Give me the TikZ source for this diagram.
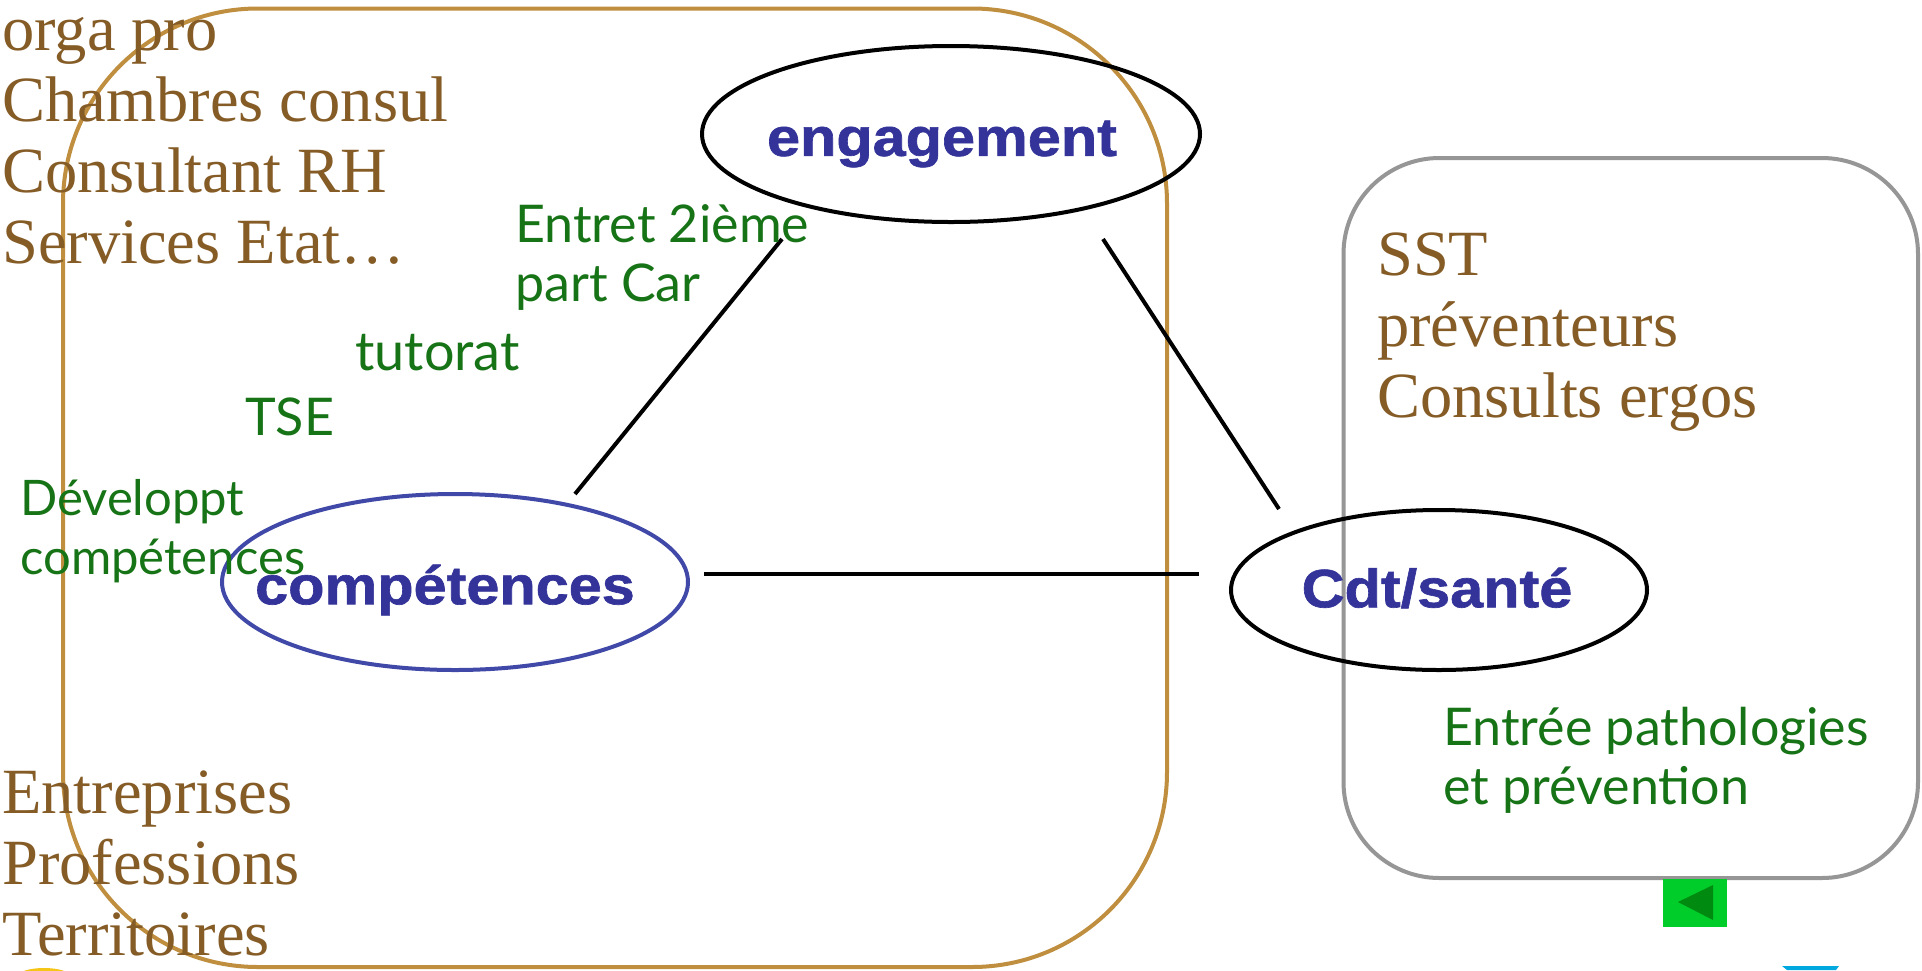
\documentclass[tikz,border=0pt]{standalone}
\usepackage{fontspec}
\setmainfont{Liberation Serif}
\newfontfamily\headfont[FakeStretch=1.1,BoldFeatures={FakeBold=1.2}]{Liberation Sans}
\newfontfamily\handfont{Lato}
\definecolor{brownText}{HTML}{855C26}
\definecolor{tanBox}{HTML}{BF8F3F}
\definecolor{greyBox}{HTML}{969696}
\definecolor{greenText}{HTML}{167316}
\definecolor{navyText}{HTML}{333399}
\definecolor{blueEll}{HTML}{4048A8}
\definecolor{btnGreen}{HTML}{00CC2A}
\definecolor{btnDark}{HTML}{008A10}
\definecolor{skyBit}{HTML}{00A8E0}
\definecolor{yellowBit}{HTML}{F5C518}
\tikzset{
 x=1pt,y=-1pt,
 brownlist/.style={anchor=base west,inner sep=0pt,text=brownText,align=left,font=\fontsize{64.5}{71}\selectfont},
 handnote/.style={anchor=base west,inner sep=0pt,text=greenText,align=left,font=\handfont\fontsize{52}{59}\selectfont},
 headlabel/.style={inner sep=0pt,text=navyText,font=\headfont\bfseries\fontsize{54}{60}\selectfont},
 ell/.style={draw=black,line width=4pt,ellipse,inner sep=0pt},
 link/.style={draw=black,line width=4pt},
}
\usetikzlibrary{shapes.geometric}
\begin{document}
\begin{tikzpicture}
\useasboundingbox (0,0) rectangle (1922,970);
\clip (0,0) rectangle (1922,970);
\fill[white] (0,0) rectangle (1922,970);
% partial shapes cut by the page edge
\fill[yellowBit] (44,976) ellipse (26 and 8);
\fill[skyBit] (1782,966) -- (1839,966) -- (1836,970) -- (1787,970) -- cycle;
% group boxes
\draw[tanBox,line width=4pt,rounded corners=195pt] (63,8.5) rectangle (1167,967);
\draw[greyBox,line width=4pt,rounded corners=96pt] (1343.5,158) rectangle (1918,878);
% button
\fill[btnGreen] (1663,879) rectangle (1727,927);
\fill[btnDark] (1678,902) -- (1713,885) -- (1713,920) -- cycle;
% ellipses
\node[ell,minimum width=498pt,minimum height=176pt] (eng) at (951,134) {};
\node[ell,draw=blueEll,minimum width=466pt,minimum height=176pt] (comp) at (455,582) {};
\node[ell,minimum width=416pt,minimum height=160pt] (cdt) at (1439,590) {};
% labels
\node[headlabel] (engL) at (942,144) {engagement};
\node[headlabel] (compL) at (445,590) {compétences};
\node[headlabel] (cdtL) at (1437,588) {Cdt/santé};
% links
\coordinate (a1) at (575,494); \coordinate (a2) at (782,239);
\coordinate (b1) at (1103,239); \coordinate (b2) at (1279,509);
\coordinate (c1) at (704,574); \coordinate (c2) at (1199,574);
\draw[link] (a1) -- (a2);
\draw[link] (b1) -- (b2);
\draw[link] (c1) -- (c2);
% brown texts
\node[brownlist] (t1) at (2,263) {orga pro\\Chambres consul\\Consultant RH\\Services Etat…};
\node[brownlist] (t2) at (2,955) {Entreprises\\Professions\\Territoires};
\node[brownlist] (t3) at (1377,417) {SST\\préventeurs\\Consults ergos};
% green notes
\node[handnote] (n1) at (515,301) {Entret 2ième\\part Car};
\node[handnote,font=\handfont\fontsize{54}{59}\selectfont] (n2) at (355,370) {tutorat};
\node[handnote] (n3) at (245,435) {TSE};
\node[handnote,font=\handfont\fontsize{49}{59}\selectfont] (n4) at (20,574) {Développt\\compétences};
\node[handnote] (n5) at (1443,804) {Entrée pathologies\\et prévention};
\end{tikzpicture}
\end{document}
